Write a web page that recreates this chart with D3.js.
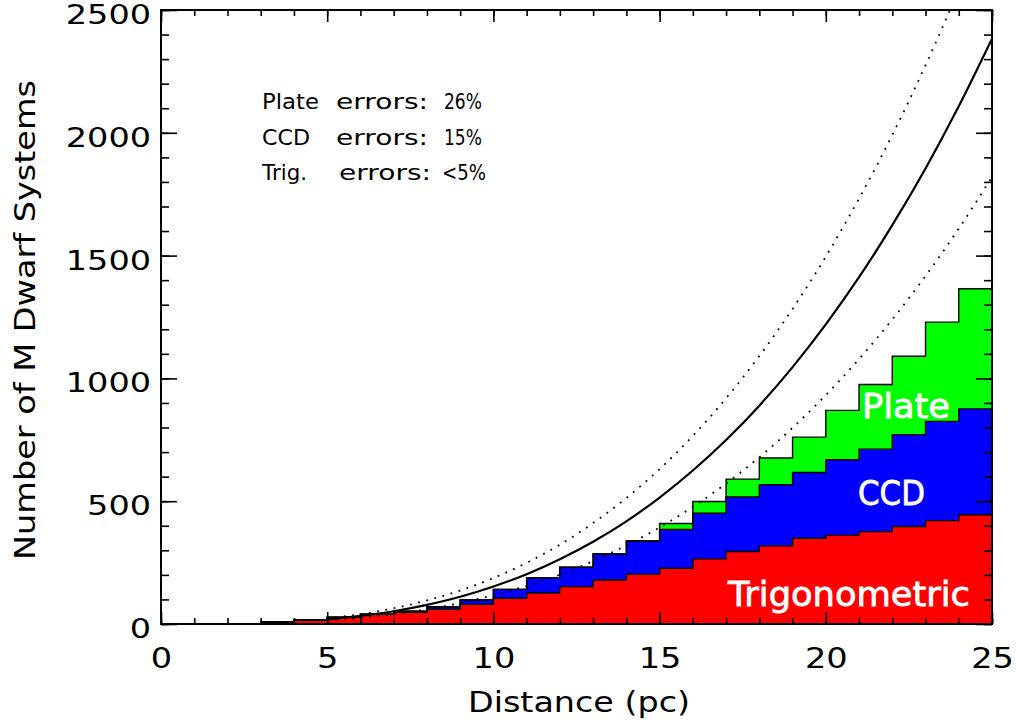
<!DOCTYPE html>
<html>
<head>
<meta charset="utf-8">
<script src="https://cdn.jsdelivr.net/npm/d3@7"></script>
<style>
  html, body { margin: 0; padding: 0; background: #fff; }
  svg { display: block; }
  text { font-family: "DejaVu Sans", sans-serif; fill: #000; }
</style>
</head>
<body>
<svg id="chart" width="1016" height="726"></svg>
<script>
// ---------------- data ----------------
// distance bins (left edge, pc), 1 pc wide
const binStarts = d3.range(0, 25);
// number of systems per bin by parallax source (stacked)
const trigonometric = [0,0,0,8,16,27,39,48,60,80,105,126,152,179,203,227,265,295,318,349,362,376,397,421,445];
const ccd           = [0,0,0,0,0,1,1,4,10,18,36,62,79,106,135,158,186,222,249,268,307,336,374,404,431];
const plate         = [0,0,0,0,0,0,0,0,0,0,0,0,0,0,0,24,48,73,109,144,201,263,319,404,489];
// expected counts at integer distances 5..25 pc
const curveDist     = d3.range(5, 26);
const expected      = [19,33,52,78,111,153,203,264,335,418,515,625,749,889,1046,1220,1412,1624,1855,2108,2383];
const expectedHigh  = [23,40,64,96,136,187,249,323,411,513,631,766,919,1091,1283,1496,1732,1991,2275,2585,2922];
const expectedLow   = [15,25,40,60,85,117,155,201,256,320,393,477,572,679,799,932,1079,1240,1417,1610,1820];
const xTicks = [0,5,10,15,20,25];
const yTicks = [0,500,1000,1500,2000,2500];
const seriesKeys = ["trig","ccd","plate"];
const seriesColors = {trig:"#ff0000", ccd:"#0000ff", plate:"#00ff00"};
const seriesLabels = [
  {key:"plate", text:"Plate"},
  {key:"ccd", text:"CCD"},
  {key:"trig", text:"Trigonometric"}
];
const noteNames  = ["Plate", "CCD", "Trig."];
const noteWord   = "errors:";
const noteValues = ["26%", "15%", "<5%"];

// ---------------- layout ----------------
const W = 1016, H = 726;
const m = {left:161, top:10, right:24, bottom:102};
const pw = W - m.left - m.right, ph = H - m.top - m.bottom;
const svg = d3.select("#chart");
const g = svg.append("g").attr("transform", `translate(${m.left},${m.top})`);

const x = d3.scaleLinear().domain([0,25]).range([0,pw]);
const y = d3.scaleLinear().domain([0,2500]).range([ph,0]);

svg.append("defs").append("clipPath").attr("id","clip")
  .append("rect").attr("width",pw).attr("height",ph);

// stacked step histogram
const rows = binStarts.map((b,i)=>({x:b, trig:trigonometric[i], ccd:ccd[i], plate:plate[i]}));
rows.push({x:25, trig:trigonometric[24], ccd:ccd[24], plate:plate[24]});
const stack = d3.stack().keys(seriesKeys)(rows);

const area = d3.area()
  .x(d=>x(d.data.x)).y0(d=>y(d[0])).y1(d=>y(d[1]))
  .curve(d3.curveStepAfter);
const topLine = d3.line()
  .x(d=>x(d.data.x)).y(d=>y(d[1]))
  .curve(d3.curveStepAfter);

const hist = g.append("g").attr("clip-path","url(#clip)");
hist.selectAll("path.area").data(stack).join("path")
  .attr("class","area")
  .attr("d", area)
  .attr("fill", d=>seriesColors[d.key]);
hist.selectAll("path.outline").data(stack).join("path")
  .attr("class","outline")
  .attr("d", topLine)
  .attr("fill","none")
  .attr("stroke","#000")
  .attr("stroke-width",1.4);

// expected curves
const cl = d3.line().x(d=>x(d[0])).y(d=>y(d[1])).curve(d3.curveMonotoneX);
const curves = g.append("g").attr("clip-path","url(#clip)");
curves.append("path").datum(curveDist.map((d,i)=>[d,expectedHigh[i]]))
  .attr("d", cl).attr("fill","none").attr("stroke","#000")
  .attr("stroke-width",1.8).attr("stroke-dasharray","1.8,6.6");
curves.append("path").datum(curveDist.map((d,i)=>[d,expectedLow[i]]))
  .attr("d", cl).attr("fill","none").attr("stroke","#000")
  .attr("stroke-width",1.8).attr("stroke-dasharray","1.8,6.6");
curves.append("path").datum(curveDist.map((d,i)=>[d,expected[i]]))
  .attr("d", cl).attr("fill","none").attr("stroke","#000")
  .attr("stroke-width",2.2);

// axes
function styleAxis(sel){
  sel.select(".domain").remove();
  sel.selectAll(".tick line").attr("stroke","#000").attr("stroke-width",1.6);
}
const xMinor = d3.range(0,26);
const yMinor = d3.range(0,2501,100);
// bottom
g.append("g").attr("transform",`translate(0,${ph})`)
  .call(d3.axisBottom(x).tickValues(xMinor).tickSize(-6).tickFormat("")).call(styleAxis);
const xb = g.append("g").attr("transform",`translate(0,${ph})`)
  .call(d3.axisBottom(x).tickValues(xTicks).tickSize(-12).tickPadding(24).tickFormat(d3.format("d"))).call(styleAxis);
// top
g.append("g").call(d3.axisTop(x).tickValues(xMinor).tickSize(-6).tickFormat("")).call(styleAxis);
g.append("g").call(d3.axisTop(x).tickValues(xTicks).tickSize(-12).tickFormat("")).call(styleAxis);
// left
g.append("g").call(d3.axisLeft(y).tickValues(yMinor).tickSize(-8).tickFormat("")).call(styleAxis);
const yl = g.append("g").call(d3.axisLeft(y).tickValues(yTicks).tickSize(-16).tickPadding(10).tickFormat(d3.format("d"))).call(styleAxis);
// right
g.append("g").attr("transform",`translate(${pw},0)`)
  .call(d3.axisRight(y).tickValues(yMinor).tickSize(-8).tickFormat("")).call(styleAxis);
g.append("g").attr("transform",`translate(${pw},0)`)
  .call(d3.axisRight(y).tickValues(yTicks).tickSize(-16).tickFormat("")).call(styleAxis);

function stretch(sel, f){
  sel.each(function(){
    const L = this.getComputedTextLength();
    d3.select(this).attr("textLength", L*f).attr("lengthAdjust","spacingAndGlyphs");
  });
}
xb.selectAll(".tick text").attr("font-size",28).attr("fill","#000")
  .attr("font-family","DejaVu Sans, sans-serif").call(stretch,1.2);
yl.selectAll(".tick text").attr("font-size",27).attr("fill","#000").attr("dy","0.5em")
  .attr("font-family","DejaVu Sans, sans-serif").call(stretch,1.24);

// frame
g.append("rect").attr("width",pw).attr("height",ph)
  .attr("fill","none").attr("stroke","#000").attr("stroke-width",2);

// axis titles
svg.append("text").attr("x", 579).attr("y", 712).attr("text-anchor","middle")
  .attr("font-size",28).attr("textLength",222).attr("lengthAdjust","spacingAndGlyphs")
  .text("Distance (pc)");
svg.append("text").attr("transform","translate(35,320) rotate(-90)").attr("text-anchor","middle")
  .attr("font-size",28).attr("textLength",480).attr("lengthAdjust","spacingAndGlyphs")
  .text("Number of M Dwarf Systems");

// error notes
const notes = svg.append("g").attr("font-size",21);
const nameW = [57, 48, 45], valW = [38, 38, 44], valX = [444, 444, 442];
noteNames.forEach((n,i)=>{
  const by = 109 + i*35.5;
  notes.append("text").attr("x",262).attr("y",by)
    .attr("textLength",nameW[i]).attr("lengthAdjust","spacingAndGlyphs").text(n);
  notes.append("text").attr("x",i===2?339:336).attr("y",by)
    .attr("textLength",92).attr("lengthAdjust","spacingAndGlyphs").text(noteWord);
  notes.append("text").attr("x",valX[i]).attr("y",by)
    .attr("textLength",valW[i]).attr("lengthAdjust","spacingAndGlyphs").text(noteValues[i]);
});

// in-chart labels
const labelPos = {plate:{x:862,y:418,w:88}, ccd:{x:858,y:505,w:67}, trig:{x:728,y:606,w:242}};
svg.selectAll("text.slabel").data(seriesLabels).join("text")
  .attr("class","slabel")
  .attr("x", d=>labelPos[d.key].x).attr("y", d=>labelPos[d.key].y)
  .attr("font-size",34).style("fill","#fff")
  .attr("stroke","#fff").attr("stroke-width",0.8)
  .attr("textLength", d=>labelPos[d.key].w).attr("lengthAdjust","spacingAndGlyphs")
  .text(d=>d.text);
</script>
</body>
</html>
